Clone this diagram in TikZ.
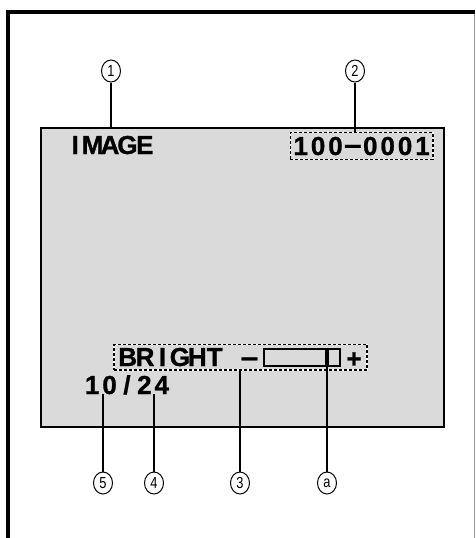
\documentclass[tikz,border=0pt]{standalone}
\usepackage{fontspec}
\setmainfont{Liberation Sans}[BoldFeatures={FakeBold=1}]
\usetikzlibrary{positioning,fit,shapes.geometric}
\definecolor{lcdgray}{RGB}{218,218,218}
\definecolor{rimgray}{RGB}{150,150,150}
\newcommand\osdtext[1]{\foreach \ch in {#1}{\makebox[17.4pt][c]{\ch}}}
\newcommand\cn[1]{\scalebox{0.8}[1]{#1}}
\newcommand\wideminus{\scalebox{1.2}[1]{−}}

\begin{document}
\begin{tikzpicture}[x=1pt, y=-1pt,
  osd/.style={font=\fontsize{26}{26}\selectfont\bfseries, inner sep=0pt,
              text height=18pt, text depth=0pt, anchor=base west},
  sign/.style={font=\fontsize{26}{26}\selectfont\bfseries, inner sep=0pt,
               anchor=base},
  dashbox/.style={draw=black, dash pattern=on 3pt off 2pt, line width=1.3pt,
                  preaction={draw=white, solid, line width=1.3pt},
                  inner sep=0pt},
  callout/.style={ellipse, draw, line width=1pt, minimum width=19pt,
                  minimum height=22pt, inner sep=0pt,
                  font=\fontsize{16}{16}\selectfont},
  lead/.style={line width=2pt}
]
\useasboundingbox (0,0) rectangle (475,538);
%% page frame
\draw[line width=4pt] (6,12) -- (475,12);
\draw[line width=4pt] (8,10) -- (8,538);
\draw[rimgray, line width=1pt] (474,14) -- (474,538);

%% lcd screen
\node[draw, line width=1.8pt, fill=lcdgray, minimum width=403pt,
      minimum height=299pt, inner sep=0pt] (screen) at (242.5,277.5) {};

\node[osd] (image) at (66.3,154) {\osdtext{I,M,A,G,E}};
\node[osd] (num)   at (291.8,155) {\osdtext{1,0,0,\wideminus,0,0,0,1}};
\node[dashbox, fit=(num), inner xsep=1.5pt, inner ysep=4pt] (numbox) {};

\node[osd] (bright) at (118.8,366) {\osdtext{B,R,I,G,H,T}};
\node[sign] (minus) at (249.5,367.5) {\wideminus};
\node[draw, line width=1.1pt, minimum width=76pt, minimum height=17pt,
      inner sep=0pt] (bar) at (302,357.5) {};
\node[fill, minimum width=4pt, minimum height=17pt, inner sep=0pt]
      (knob) at (327,357.5) {};
\node[sign] (plus) at (354,367.5) {+};
\node[dashbox, fit={(114,344.5) (367,370)}] (brightbox) {};

\node[osd] (date) at (83.3,394) {\osdtext{1,0,/,2,4}};

%% callouts
\node[callout] (c1) at (111,71)  {\cn{1}};
\node[callout] (c2) at (355,71)  {\cn{2}};
\node[callout] (c5) at (103,483) {\cn{5}};
\node[callout] (c4) at (154,483) {\cn{4}};
\node[callout] (c3) at (240,483) {\cn{3}};
\node[callout] (ca) at (327,483) {\cn{a}};

\draw[lead] (c1) -- (c1 |- screen.north);
\draw[lead] (c2) -- (c2 |- numbox.north);
\draw[lead] (c5) -- (c5 |- date.south);
\draw[lead] (c4) -- (c4 |- date.south);
\draw[lead] (c3) -- (c3 |- brightbox.south);
\draw[lead] (ca) -- (knob.south);
\end{tikzpicture}
\end{document}
